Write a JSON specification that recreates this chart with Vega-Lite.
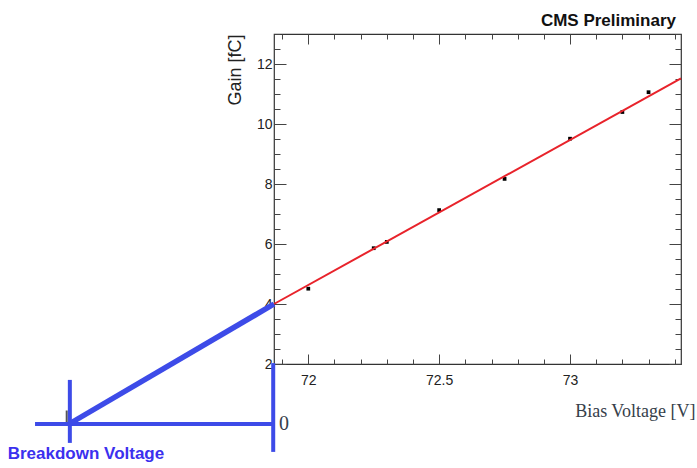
{
  "$schema": "https://vega.github.io/schema/vega-lite/v6.json",
  "width": 407,
  "height": 330,
  "autosize": "none",
  "padding": {"left": 274, "top": 34, "right": 16, "bottom": 104},
  "background": "white",
  "config": {
    "view": {"stroke": "#333333", "strokeWidth": 1.2},
    "axis": {"grid": false, "domain": false, "tickColor": "#444444", "tickWidth": 1, "labelOverlap": false, "labelFlush": false}
  },
  "title": {
    "text": "CMS Preliminary",
    "anchor": "end",
    "frame": "group",
    "font": "Liberation Sans",
    "fontSize": 17,
    "fontWeight": "bold",
    "color": "#111111",
    "offset": -3,
    "dx": -5
  },
  "datasets": {
    "points": [
      {"v": 72.0, "g": 4.51},
      {"v": 72.25, "g": 5.86},
      {"v": 72.3, "g": 6.07},
      {"v": 72.5, "g": 7.13},
      {"v": 72.75, "g": 8.17},
      {"v": 73.0, "g": 9.51},
      {"v": 73.2, "g": 10.4},
      {"v": 73.3, "g": 11.06}
    ],
    "fit": [
      {"v": 71.869, "g": 4.0},
      {"v": 73.424, "g": 11.52}
    ],
    "diag": [
      {"v": 71.086, "g": 0.0, "v2": 71.869, "g2": 4.0}
    ],
    "guides": [
      {"v": 70.956, "g": 0.0, "v2": 71.866, "g2": 0.0},
      {"v": 71.089, "g": 1.47, "v2": 71.089, "g2": -0.63},
      {"v": 71.866, "g": 2.03, "v2": 71.866, "g2": -0.93}
    ],
    "stub": [
      {"v": 71.077, "g": 0.05, "v2": 71.077, "g2": 0.45}
    ],
    "zero": [
      {"v": 71.869, "g": 0.0, "label": "0"}
    ],
    "bd": [
      {"v": 71.1506, "g": -1.0, "label": "Breakdown Voltage"}
    ]
  },
  "layer": [
    {
      "data": {"name": "points"},
      "mark": {"type": "point", "shape": "square", "filled": true, "color": "#000000", "size": 14, "opacity": 1},
      "encoding": {
        "x": {
          "field": "v", "type": "quantitative",
          "scale": {"domain": [71.869, 73.424], "nice": false, "zero": false},
          "axis": {
            "orient": "bottom",
            "values": [71.9, 72.0, 72.1, 72.2, 72.3, 72.4, 72.5, 72.6, 72.7, 72.8, 72.9, 73.0, 73.1, 73.2, 73.3, 73.4],
            "tickSize": {"condition": {"test": "abs(datum.value*2-round(datum.value*2))<0.001", "value": -10}, "value": -5},
            "labelExpr": "abs(datum.value*2-round(datum.value*2))<0.001 ? format(datum.value,'~g') : ''",
            "labelFont": "Liberation Sans",
            "labelFontSize": 14,
            "labelColor": "#222222",
            "labelPadding": 19,
            "title": "Bias Voltage [V]",
            "titleFont": "Liberation Serif",
            "titleFontSize": 18,
            "titleFontWeight": "normal",
            "titleColor": "#36404a",
            "titleAnchor": "end",
            "titleAlign": "right",
            "titleBaseline": "alphabetic",
            "titleX": 421,
            "titleY": 52
          }
        },
        "y": {
          "field": "g", "type": "quantitative",
          "scale": {"domain": [2, 13], "nice": false, "zero": false},
          "axis": {
            "orient": "left",
            "values": [2, 2.5, 3, 3.5, 4, 4.5, 5, 5.5, 6, 6.5, 7, 7.5, 8, 8.5, 9, 9.5, 10, 10.5, 11, 11.5, 12, 12.5, 13],
            "tickSize": {"condition": {"test": "datum.value % 2 == 0", "value": -12}, "value": -6},
            "labelExpr": "datum.value % 2 == 0 ? format(datum.value,'d') : ''",
            "labelFont": "Liberation Sans",
            "labelFontSize": 14,
            "labelColor": "#222222",
            "labelPadding": 14,
            "title": "Gain [fC]",
            "titleFont": "Liberation Sans",
            "titleFontSize": 18,
            "titleFontWeight": "normal",
            "titleColor": "#222222",
            "titleAnchor": "end",
            "titlePadding": 12
          }
        }
      }
    },
    {
      "data": {"name": "fit"},
      "mark": {"type": "line", "color": "#e8232b", "strokeWidth": 2},
      "encoding": {
        "x": {
          "field": "v", "type": "quantitative",
          "axis": {
            "orient": "top",
            "values": [71.9, 72.0, 72.1, 72.2, 72.3, 72.4, 72.5, 72.6, 72.7, 72.8, 72.9, 73.0, 73.1, 73.2, 73.3, 73.4],
            "tickSize": {"condition": {"test": "abs(datum.value*2-round(datum.value*2))<0.001", "value": -10}, "value": -5},
            "labels": false,
            "title": null
          }
        },
        "y": {
          "field": "g", "type": "quantitative",
          "axis": {
            "orient": "right",
            "values": [2, 2.5, 3, 3.5, 4, 4.5, 5, 5.5, 6, 6.5, 7, 7.5, 8, 8.5, 9, 9.5, 10, 10.5, 11, 11.5, 12, 12.5, 13],
            "tickSize": {"condition": {"test": "datum.value % 2 == 0", "value": -12}, "value": -6},
            "labels": false,
            "title": null
          }
        }
      }
    },
    {
      "data": {"name": "stub"},
      "mark": {"type": "rule", "color": "#555555", "strokeWidth": 2},
      "encoding": {
        "x": {"field": "v", "type": "quantitative", "axis": null},
        "y": {"field": "g", "type": "quantitative", "axis": null},
        "x2": {"field": "v2"},
        "y2": {"field": "g2"}
      }
    },
    {
      "data": {"name": "guides"},
      "mark": {"type": "rule", "color": "#3d4be8", "strokeWidth": 4},
      "encoding": {
        "x": {"field": "v", "type": "quantitative", "axis": null},
        "y": {"field": "g", "type": "quantitative", "axis": null},
        "x2": {"field": "v2"},
        "y2": {"field": "g2"}
      }
    },
    {
      "data": {"name": "diag"},
      "mark": {"type": "rule", "color": "#3d4be8", "strokeWidth": 5.5},
      "encoding": {
        "x": {"field": "v", "type": "quantitative", "axis": null},
        "y": {"field": "g", "type": "quantitative", "axis": null},
        "x2": {"field": "v2"},
        "y2": {"field": "g2"}
      }
    },
    {
      "data": {"name": "zero"},
      "mark": {"type": "text", "align": "left", "baseline": "middle", "dx": 5, "font": "Liberation Serif", "fontSize": 20, "color": "#36404a"},
      "encoding": {
        "x": {"field": "v", "type": "quantitative", "axis": null},
        "y": {"field": "g", "type": "quantitative", "axis": null},
        "text": {"field": "label"}
      }
    },
    {
      "data": {"name": "bd"},
      "mark": {"type": "text", "align": "center", "baseline": "middle", "font": "Liberation Sans", "fontSize": 17, "fontWeight": "bold", "color": "#3b30ee"},
      "encoding": {
        "x": {"field": "v", "type": "quantitative", "axis": null},
        "y": {"field": "g", "type": "quantitative", "axis": null},
        "text": {"field": "label"}
      }
    }
  ],
  "resolve": {"axis": {"x": "independent", "y": "independent"}}
}
